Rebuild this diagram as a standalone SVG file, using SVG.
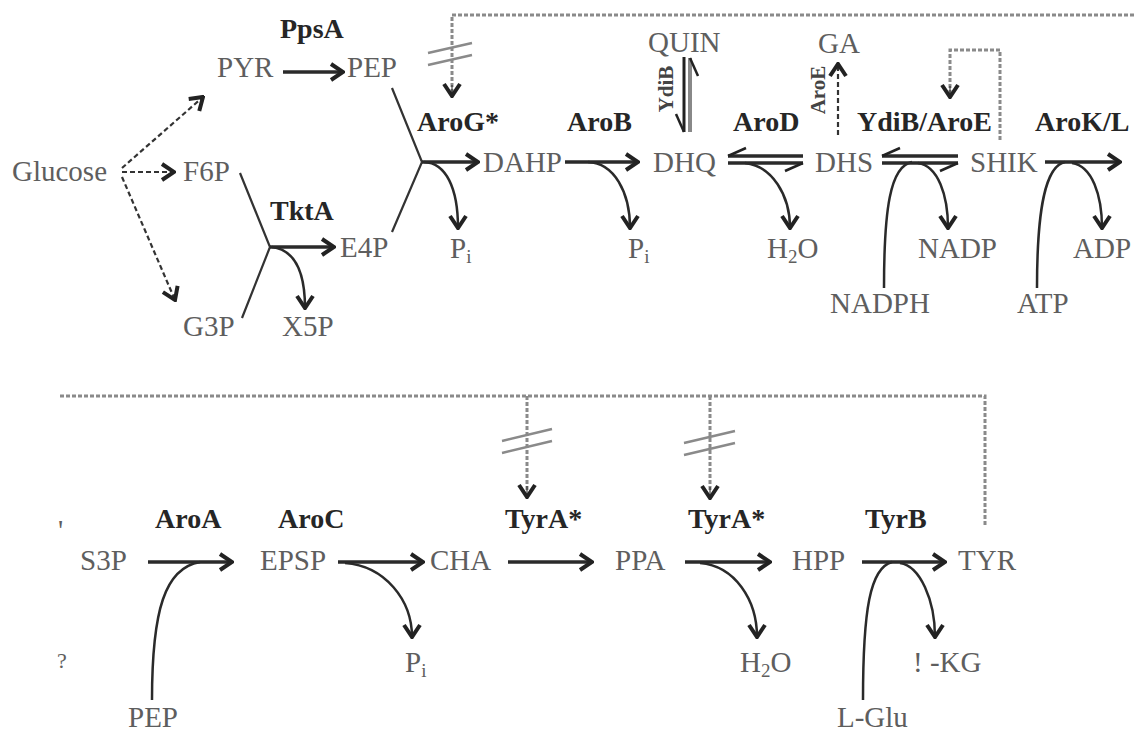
<svg xmlns="http://www.w3.org/2000/svg" width="1134" height="735" viewBox="0 0 1134 735">
<style>
.m{font-family:"Liberation Serif","Times New Roman",serif;font-size:29px;fill:#5e5e5e}
.s{font-size:19px}
.e{font-family:"Liberation Serif","Times New Roman",serif;font-size:28px;font-weight:bold;fill:#262626}
.er{font-family:"Liberation Serif","Times New Roman",serif;font-size:21px;font-weight:bold;fill:#444}
.main{fill:none;stroke:#2a2a2a;stroke-width:3.5}
.cur{fill:none;stroke:#2a2a2a;stroke-width:2.5}
.thin{fill:none;stroke:#333;stroke-width:2.2}
.dash{fill:none;stroke:#333;stroke-width:2.2;stroke-dasharray:5 3}
.dot{fill:none;stroke:#8a8a8a;stroke-width:3;stroke-dasharray:4 2}
.sl{fill:none;stroke:#8a8a8a;stroke-width:2.5}
</style>
<defs>
<marker id="ah" viewBox="0 0 16 20" refX="14" refY="10" markerWidth="16" markerHeight="20" markerUnits="userSpaceOnUse" orient="auto">
<path d="M2,2 L14,10 L2,18" fill="none" stroke="#222" stroke-width="4"/>
</marker>
<marker id="hh" viewBox="0 0 24 20" refX="22" refY="6" markerWidth="24" markerHeight="20" markerUnits="userSpaceOnUse" orient="auto">
<path d="M22,6 L4,14" fill="none" stroke="#222" stroke-width="2.5"/>
</marker>
</defs>

<g id="connectors">
<path class="dash" d="M122,168 L203,97" marker-end="url(#ah)"/>
<path class="dash" d="M122,172 L174,172" marker-end="url(#ah)"/>
<path class="dash" d="M122,177 L175,300" marker-end="url(#ah)"/>
<path class="main" d="M283,72 L343,72" marker-end="url(#ah)"/>
<path class="thin" d="M240,173 L270,247 L242,318"/>
<path class="main" d="M270,247 L334,247" marker-end="url(#ah)"/>
<path class="cur" d="M272,247 C295,250 305,272 305,308" marker-end="url(#ah)"/>
<path class="thin" d="M392,88 L422,162 L392,232"/>
<path class="main" d="M422,162 L478,162" marker-end="url(#ah)"/>
<path class="cur" d="M424,162 C446,163 458,188 458,228" marker-end="url(#ah)"/>
<path class="main" d="M565,162 L638,162" marker-end="url(#ah)"/>
<path class="cur" d="M588,162 C614,163 630,192 630,228" marker-end="url(#ah)"/>
<path d="M684,57 L684,132" fill="none" stroke="#222" stroke-width="3" marker-end="url(#hh)"/>
<path d="M690,132 L690,58" fill="none" stroke="#888" stroke-width="4" marker-end="url(#hh)"/>
<path class="main" d="M803,156 L728,156" marker-end="url(#hh)"/>
<path class="main" d="M728,163 L803,163" marker-end="url(#hh)"/>
<path class="cur" d="M745,163 C772,166 790,195 790,228" marker-end="url(#ah)"/>
<path class="dash" d="M838,135 L838,64" stroke="#777" marker-end="url(#ah)"/>
<path class="main" d="M958,156 L882,156" marker-end="url(#hh)"/>
<path class="main" d="M882,163 L958,163" marker-end="url(#hh)"/>
<path class="cur" d="M884,288 C884,210 890,166 912,162"/>
<path class="cur" d="M918,163 C938,166 948,195 948,228" marker-end="url(#ah)"/>
<path class="main" d="M1045,162 L1120,162" marker-end="url(#ah)"/>
<path class="cur" d="M1037,288 C1037,210 1045,166 1065,162"/>
<path class="cur" d="M1072,163 C1092,166 1102,195 1102,228" marker-end="url(#ah)"/>
<path class="dot" d="M1134,15 L452,15 L452,95"/>
<path d="M452,85 L452,96" fill="none" stroke="#222" stroke-width="1" marker-end="url(#ah)"/>
<path class="sl" d="M428,53 L472,43 M428,65 L472,55"/>
<path class="dot" d="M1000,140 L1000,50 L950,50 L950,96"/>
<path d="M950,86 L950,97" fill="none" stroke="#222" stroke-width="1" marker-end="url(#ah)"/>
<path class="main" d="M148,562 L232,562" marker-end="url(#ah)"/>
<path class="cur" d="M152,700 C152,610 165,568 200,562"/>
<path class="main" d="M338,562 L423,562" marker-end="url(#ah)"/>
<path class="cur" d="M345,563 C385,566 412,600 412,637" marker-end="url(#ah)"/>
<path class="main" d="M508,562 L592,562" marker-end="url(#ah)"/>
<path class="main" d="M685,562 L770,562" marker-end="url(#ah)"/>
<path class="cur" d="M700,563 C735,566 757,600 757,637" marker-end="url(#ah)"/>
<path class="main" d="M862,562 L945,562" marker-end="url(#ah)"/>
<path class="cur" d="M863,700 C863,610 870,568 892,562"/>
<path class="cur" d="M900,563 C920,566 935,600 935,637" marker-end="url(#ah)"/>
<path class="dot" d="M985,525 L985,396 L60,396"/>
<path class="dot" d="M527,396 L527,490"/>
<path d="M527,486 L527,497" fill="none" stroke="#222" stroke-width="1" marker-end="url(#ah)"/>
<path class="sl" d="M502,441 L552,429 M502,453 L552,441"/>
<path class="dot" d="M710,396 L710,490"/>
<path d="M710,487 L710,498" fill="none" stroke="#222" stroke-width="1" marker-end="url(#ah)"/>
<path class="sl" d="M684,443 L735,431 M684,455 L735,443"/>
</g>

<g id="n-glucose"><text class="m" x="12" y="181">Glucose</text></g>
<g id="n-pyr"><text class="m" x="217" y="77">PYR</text></g>
<g id="n-pep"><text class="m" x="347" y="77">PEP</text></g>
<g id="n-f6p"><text class="m" x="183" y="181">F6P</text></g>
<g id="n-g3p"><text class="m" x="183" y="336">G3P</text></g>
<g id="n-e4p"><text class="m" x="340" y="257">E4P</text></g>
<g id="n-x5p"><text class="m" x="282" y="336">X5P</text></g>
<g id="n-dahp"><text class="m" x="483" y="172">DAHP</text></g>
<g id="n-pi1"><text class="m" x="450" y="258">P<tspan class="s" dy="5">i</tspan></text></g>
<g id="n-pi2"><text class="m" x="628" y="258">P<tspan class="s" dy="5">i</tspan></text></g>
<g id="n-dhq"><text class="m" x="653" y="172">DHQ</text></g>
<g id="n-quin"><text class="m" x="648" y="52">QUIN</text></g>
<g id="n-h2o1"><text class="m" x="767" y="258">H<tspan class="s" dy="5">2</tspan><tspan dy="-5">O</tspan></text></g>
<g id="n-dhs"><text class="m" x="815" y="172">DHS</text></g>
<g id="n-ga"><text class="m" x="818" y="53">GA</text></g>
<g id="n-nadp"><text class="m" x="918" y="258">NADP</text></g>
<g id="n-nadph"><text class="m" x="830" y="313">NADPH</text></g>
<g id="n-shik"><text class="m" x="970" y="172">SHIK</text></g>
<g id="n-adp"><text class="m" x="1073" y="258">ADP</text></g>
<g id="n-atp"><text class="m" x="1017" y="313">ATP</text></g>

<g id="enzymes-top">
<text class="e" x="280" y="38">PpsA</text>
<text class="e" x="270" y="220">TktA</text>
<text class="e" x="417" y="131">AroG*</text>
<text class="e" x="567" y="131">AroB</text>
<text class="er" transform="translate(673,89) rotate(-90)" text-anchor="middle">YdiB</text>
<text class="e" x="733" y="131">AroD</text>
<text class="er" transform="translate(825,90) rotate(-90)" text-anchor="middle">AroE</text>
<text class="e" x="857" y="131">YdiB/AroE</text>
<text class="e" x="1035" y="131">AroK/L</text>
</g>

<g id="n-s3p"><text class="m" x="80" y="570">S3P</text></g>
<g id="n-pep2"><text class="m" x="128" y="727">PEP</text></g>
<g id="n-epsp"><text class="m" x="260" y="570">EPSP</text></g>
<g id="n-pi3"><text class="m" x="405" y="672">P<tspan class="s" dy="5">i</tspan></text></g>
<g id="n-cha"><text class="m" x="430" y="570">CHA</text></g>
<g id="n-ppa"><text class="m" x="615" y="570">PPA</text></g>
<g id="n-h2o2"><text class="m" x="740" y="672">H<tspan class="s" dy="5">2</tspan><tspan dy="-5">O</tspan></text></g>
<g id="n-hpp"><text class="m" x="792" y="570">HPP</text></g>
<g id="n-tyr"><text class="m" x="958" y="570">TYR</text></g>
<g id="n-akg"><text class="m" x="913" y="672">! -KG</text></g>
<g id="n-lglu"><text class="m" x="837" y="727">L-Glu</text></g>
<g id="marks">
<text class="m" x="58" y="540">'</text>
<text class="m" x="57" y="668" style="font-size:22px">?</text>
</g>

<g id="enzymes-bottom">
<text class="e" x="155" y="528">AroA</text>
<text class="e" x="278" y="528">AroC</text>
<text class="e" x="505" y="528">TyrA*</text>
<text class="e" x="688" y="528">TyrA*</text>
<text class="e" x="865" y="528">TyrB</text>
</g>
</svg>
